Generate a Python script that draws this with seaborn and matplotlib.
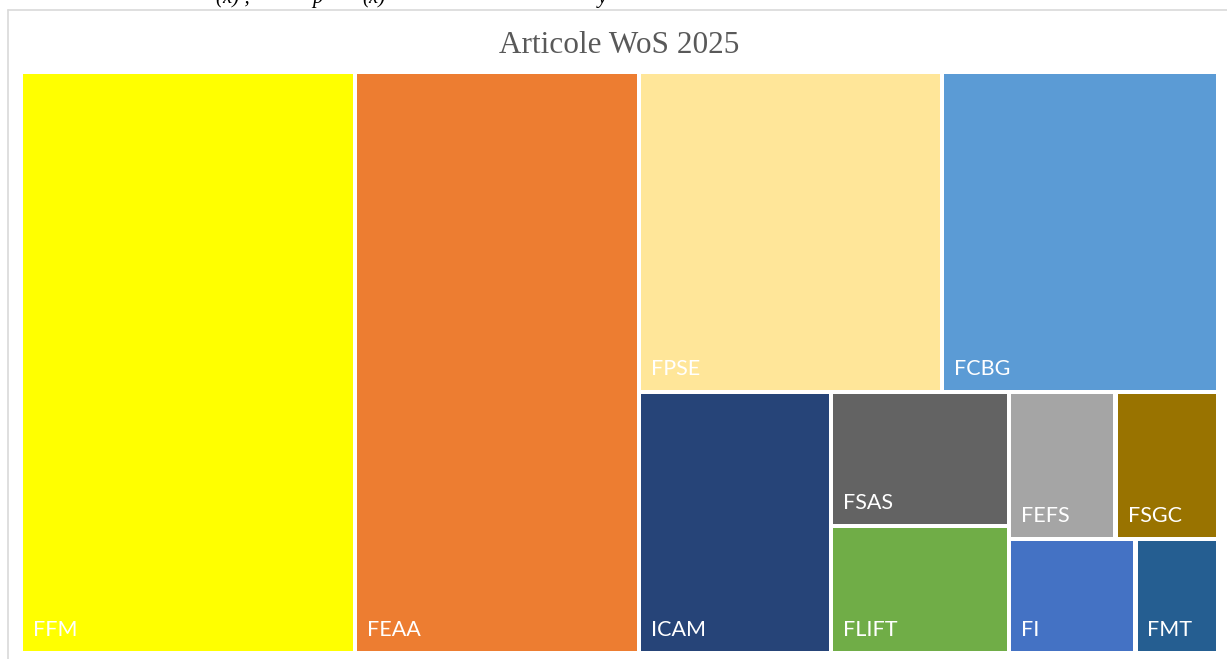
import matplotlib
matplotlib.use("Agg")
import matplotlib.pyplot as plt
import matplotlib.patches as mpatches
from matplotlib.lines import Line2D
import seaborn as sns

# ------ Data ------
faculties = ["FFM", "FEAA", "FPSE", "FCBG", "ICAM", "FSAS", "FLIFT",
             "FEFS", "FSGC", "FI", "FMT"]
articles = [310, 263, 155, 141, 80, 38, 36, 25, 24, 23, 15]
colors = ["#FFFF00", "#ED7D31", "#FFE699", "#5B9BD5", "#264478", "#636363",
          "#70AD47", "#A5A5A5", "#997300", "#4472C4", "#255E91"]
title = "Articole WoS 2025"


# ------ Squarified treemap layout ------
def worst(row, side):
    s = sum(row)
    return max(max(side * side * r / (s * s), s * s / (side * side * r)) for r in row)


def squarify(areas, x, y, w, h):
    rects = []
    areas = list(areas)
    while areas:
        side = min(w, h)
        row = [areas.pop(0)]
        while areas and worst(row + [areas[0]], side) <= worst(row, side):
            row.append(areas.pop(0))
        s = sum(row)
        if w > h:  # column on the left
            cw = s / h
            yy = y
            for a in row:
                rects.append((x, yy, cw, a / cw))
                yy += a / cw
            x += cw
            w -= cw
        else:  # row along the top
            rh = s / w
            xx = x
            for a in row:
                rects.append((xx, y, a / rh, rh))
                xx += a / rh
            y += rh
            h -= rh
    return rects


# ------ Figure ------
sns.set_theme(style="white")
W_PX, H_PX = 1227, 659
fig = plt.figure(figsize=(W_PX / 100, H_PX / 100), dpi=100)

# plot area in pixels
left, top, right, bottom = 21, 71.5, 1218, 653
pw, ph = right - left, bottom - top
ax = fig.add_axes([left / W_PX, 1 - bottom / H_PX, pw / W_PX, ph / H_PX])
ax.set_xlim(0, pw)
ax.set_ylim(ph, 0)
ax.axis("off")

total = sum(articles)
areas = [v / total * pw * ph for v in articles]
g = 2.2
for (x, y, w, h), name, col in zip(squarify(areas, 0, 0, pw, ph), faculties, colors):
    ax.add_patch(mpatches.Rectangle((x + g, y + g), w - 2 * g, h - 2 * g,
                                    facecolor=col, edgecolor="none"))
    ax.text(x + 12, y + h - 17, name, color="white", fontsize=15.5,
            family=["Lato", "DejaVu Sans"], va="baseline", ha="left")

# title
fig.text((left + right) / 2 / W_PX, 1 - 53 / H_PX, title, ha="center",
         va="baseline", color="#595959", fontsize=22.5,
         family=["Liberation Serif", "DejaVu Serif"])

# chart frame (light gray)
fig.add_artist(Line2D([8 / W_PX, 1], [1 - 10 / H_PX, 1 - 10 / H_PX],
                      transform=fig.transFigure, color="#D9D9D9", lw=1.2))
fig.add_artist(Line2D([8 / W_PX, 8 / W_PX], [0, 1 - 10 / H_PX],
                      transform=fig.transFigure, color="#D9D9D9", lw=1.2))

# cut-off text from the page above the chart
for px, txt in [(216, "(x) ,"), (312, "p"), (362, "(x)"), (598, "y")]:
    fig.text(px / W_PX, 1 - 3 / H_PX, txt, color="black", fontsize=15,
             style="italic", family=["Liberation Serif", "DejaVu Serif"],
             va="baseline", ha="left")

fig.savefig("out.png", dpi=100)
